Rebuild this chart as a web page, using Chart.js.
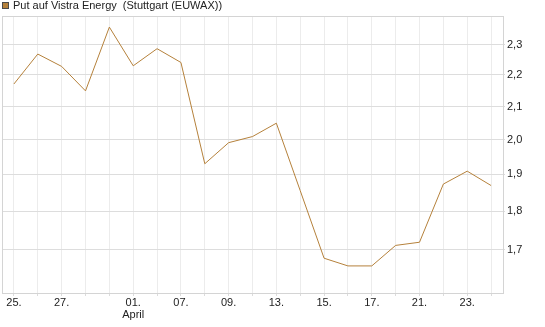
<!DOCTYPE html>
<html>
<head>
<meta charset="utf-8">
<script src="https://cdn.jsdelivr.net/npm/chart.js@4/dist/chart.umd.min.js"></script>
<style>
  body { margin: 0; background: #fff; }
  #wrap { width: 545px; height: 327px; }
</style>
</head>
<body>
<div id="wrap"><canvas id="chart" width="545" height="327"></canvas></div>
<script>
    // Trading days (March/April) and closing values
    const dates = ['25.', '26.', '27.', '28.', '31.', '01.', '04.', '07.', '08.', '09.', '10.',
                   '13.', '14.', '15.', '16.', '17.', '18.', '21.', '22.', '23.', '24.'];
    const prices = [2.171, 2.269, 2.228, 2.149, 2.361, 2.230, 2.287, 2.241, 1.930, 1.991, 2.009,
                    2.049, 1.855, 1.679, 1.660, 1.660, 1.711, 1.719, 1.873, 1.909, 1.869];
    const shownDates = ['25.', '27.', '01.', '07.', '09.', '13.', '15.', '17.', '21.', '23.'];
    const monthLabels = { '01.': 'April' };
    const yTicks = [1.7, 1.8, 1.9, 2.0, 2.1, 2.2, 2.3];
    const seriesName = 'Put auf Vistra Energy  (Stuttgart (EUWAX))';

    const lineColor = '#b5813b';
    const font = { family: 'Arial, "Liberation Sans", sans-serif', size: 11, lineHeight: 1.1 };

    // frame round the plot area plus the header with its colour box
    const framePlugin = {
        id: 'frame',
        beforeDatasetsDraw(chart) {
            const { ctx, chartArea: a } = chart;
            ctx.save();
            ctx.strokeStyle = '#d4d4d4';
            ctx.lineWidth = 1;
            ctx.strokeRect(Math.round(a.left) + 0.5, Math.round(a.top) + 0.5,
                           Math.round(a.right - a.left), Math.round(a.bottom - a.top));
            ctx.restore();
        },
        afterDraw(chart) {
            const ctx = chart.ctx;
            ctx.save();
            ctx.fillStyle = lineColor;
            ctx.fillRect(2, 2, 7, 7);
            ctx.strokeStyle = '#4a4a4a';
            ctx.lineWidth = 1;
            ctx.strokeRect(2.5, 2.5, 6, 6);
            ctx.fillStyle = '#222';
            ctx.font = '11px Arial, "Liberation Sans", sans-serif';
            ctx.textBaseline = 'middle';
            ctx.fillText(seriesName, 13, 6);
            ctx.restore();
        }
    };

    new Chart(document.getElementById('chart'), {
        type: 'line',
        data: {
            labels: dates,
            datasets: [{
                label: seriesName,
                data: prices,
                borderColor: lineColor,
                borderWidth: 1,
                pointRadius: 0,
                tension: 0,
                fill: false
            }]
        },
        options: {
            responsive: false,
            animation: false,
            layout: { padding: { top: 16, left: 2, right: 0, bottom: 0 } },
            plugins: { legend: { display: false }, tooltip: { enabled: false } },
            scales: {
                x: {
                    offset: true,
                    grid: { offset: false, color: '#ececec', tickColor: '#dcdcdc', tickLength: 3, lineWidth: 1 },
                    border: { display: false },
                    ticks: {
                        autoSkip: false,
                        maxRotation: 0,
                        padding: 1,
                        color: '#222',
                        font: font,
                        callback: function(value) {
                            const d = dates[value];
                            if (!shownDates.includes(d)) return '';
                            return monthLabels[d] ? [d, monthLabels[d]] : d;
                        }
                    },
                    afterFit: function(scale) { scale.height = 34; }
                },
                y: {
                    type: 'logarithmic',
                    position: 'right',
                    min: 1.595,
                    max: 2.40,
                    grid: { color: '#dddddd', tickLength: 2 },
                    border: { display: false },
                    afterBuildTicks: function(scale) {
                        scale.ticks = yTicks.map(v => ({ value: v }));
                    },
                    ticks: {
                        padding: 2,
                        color: '#222',
                        font: font,
                        callback: v => v.toFixed(1).replace('.', ',')
                    },
                    afterFit: function(scale) { scale.width = 42; }
                }
            }
        },
        plugins: [framePlugin]
    });
</script>
</body>
</html>
